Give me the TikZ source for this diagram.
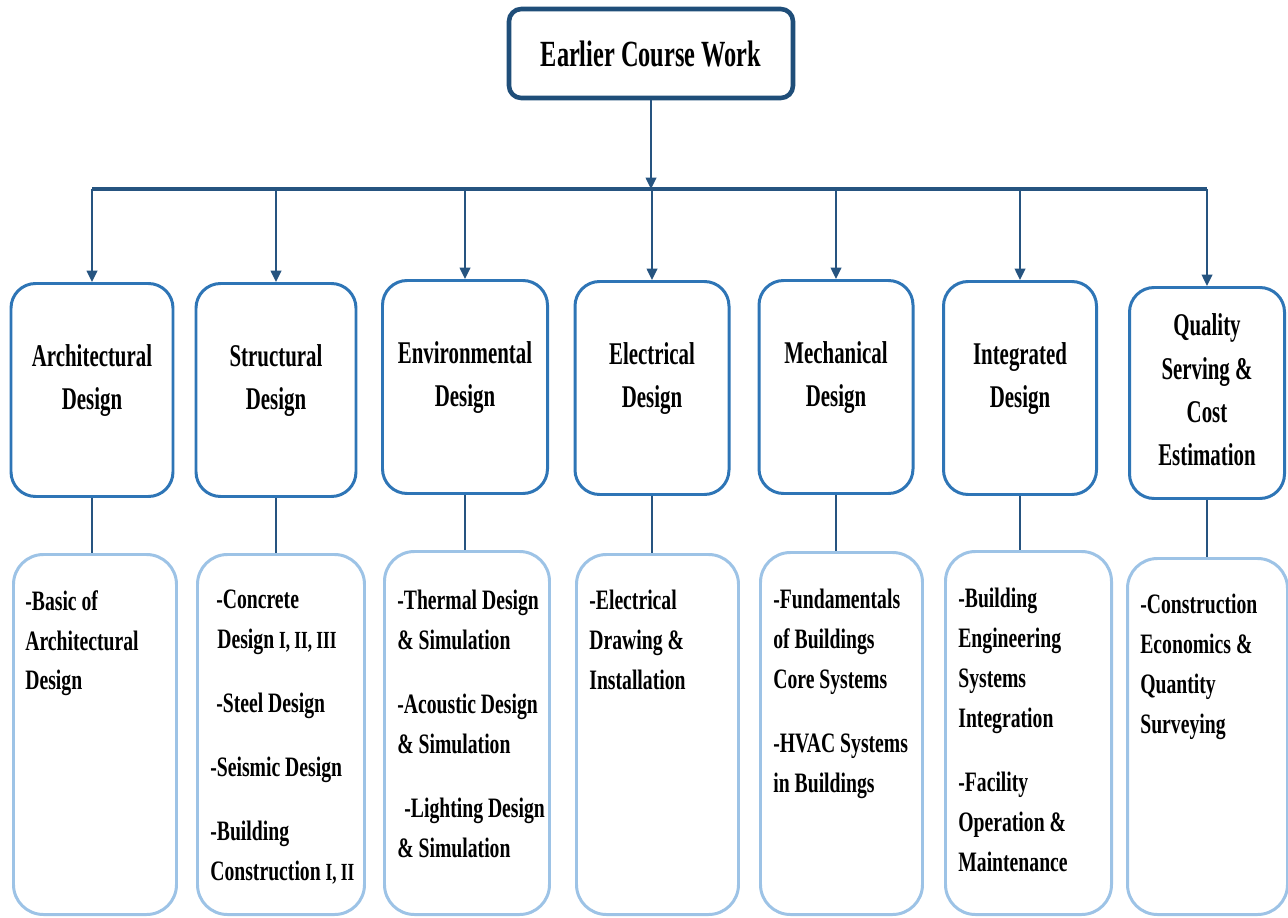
\documentclass[tikz,border=0pt]{standalone}
\usepackage{fontspec}
\setmainfont{Liberation Serif}[FakeStretch=0.66]
\newfontfamily\lowfont{Liberation Serif}[FakeStretch=0.70]
\usetikzlibrary{arrows.meta,positioning}

\definecolor{topblue}{RGB}{31,78,121}
\definecolor{linkblue}{RGB}{38,84,128}
\definecolor{midblue}{RGB}{46,117,182}
\definecolor{lowblue}{RGB}{157,195,230}

\tikzset{
  topbox/.style={draw=topblue, line width=2.6pt, rounded corners=7pt, fill=white,
    minimum width=284*0.02cm, minimum height=89*0.02cm,
    font=\bfseries\fontsize{21}{26}\selectfont},
  midbox/.style={draw=midblue, line width=1.7pt, rounded corners=14pt, fill=white,
    align=center, anchor=north, font=\bfseries\fontsize{18}{24.5}\selectfont},
  lowbox/.style={draw=lowblue, line width=1.7pt, rounded corners=17pt, fill=white,
    anchor=north west},
  lowtext/.style={anchor=north west, inner sep=0pt, align=left,
    font=\lowfont\bfseries\fontsize{16}{22.7}\selectfont},
  link/.style={draw=linkblue, line width=1.2pt},
  arr/.style={link, -{Triangle[length=6.5pt, width=6pt]}}
}

\newcommand{\numrl}[1]{{\fontsize{14}{22.7}\selectfont #1}}

\begin{document}
\begin{tikzpicture}[x=0.02cm, y=-0.02cm]
\useasboundingbox (0,0) rectangle (1288,917);

% Top box
\node[topbox] (top) at (651,53.5) {Earlier Course Work};

% Middle row of design fields
\foreach \i/\cx/\ty/\bw/\bh/\td/\lbl in {
    1/92/282/162/213/15/{Architectural\\Design},
    2/276/282/160/213/15/{Structural\\Design},
    3/465/279/165/213/15/{Environmental\\Design},
    4/652/280/154/213/15/{Electrical\\Design},
    5/836/279/154/213/15/{Mechanical\\Design},
    6/1020/280/153/213/15/{Integrated\\Design},
    7/1207/286/155/211/3.9/{Quality\\Serving \&\\Cost\\Estimation}} {
    \node[midbox, minimum width=\bw*0.02cm, minimum height=\bh*0.02cm, text depth=\td pt] (m\i) at (\cx,\ty) {\lbl};
}

% Bus and arrows
\coordinate (bus) at (651,189);
\draw[arr] (top.south) -- (bus);
\draw[link, line width=2pt] (m1.north |- bus) -- (m7.north |- bus);
\foreach \i in {1,...,7} {
    \draw[arr] (m\i.north |- bus) -- (m\i.north);
}

% Lower row of course boxes
\foreach \i/\lx/\ty/\bw in {1/12/553/163, 2/196/553/167, 3/383/550/165, 4/575/553/162,
    5/759/551/162, 6/944/550/166, 7/1126/557/160} {
    \node[lowbox, minimum width=\bw*0.02cm, minimum height=(913-\ty)*0.02cm] (l\i) at (\lx,\ty) {};
}
\foreach \i in {1,...,7} {
    \draw[link] (m\i.south) -- (m\i.south |- l\i.north);
}

% Course texts
\node[lowtext] (t1) at (25,590) {-Basic of\\Architectural\\Design};
\node[lowtext] (t2) at (210,590) {\hspace{3.4pt}-Concrete\\\hspace{4pt}Design \numrl{I, II, III}\\[13.6pt]
    \hspace{3.4pt}-Steel Design\\[13.6pt]-Seismic Design\\[13.6pt]-Building\\Construction \numrl{I, II}};
\node[lowtext] (t3) at (397,590) {-Thermal Design\\\& Simulation\\[13.6pt]
    -Acoustic Design\\\& Simulation\\[13.6pt]\hspace{4pt}-Lighting Design\\\& Simulation};
\node[lowtext] (t4) at (589,590) {-Electrical\\Drawing \&\\Installation};
\node[lowtext] (t5) at (773,589) {-Fundamentals\\of Buildings\\Core Systems\\[13.6pt]
    -HVAC Systems\\in Buildings};
\node[lowtext] (t6) at (958,588) {-Building\\Engineering\\Systems\\Integration\\[13.6pt]
    -Facility\\Operation \&\\Maintenance};
\node[lowtext] (t7) at (1140,594) {-Construction\\Economics \&\\Quantity\\Surveying};

\end{tikzpicture}
\end{document}
